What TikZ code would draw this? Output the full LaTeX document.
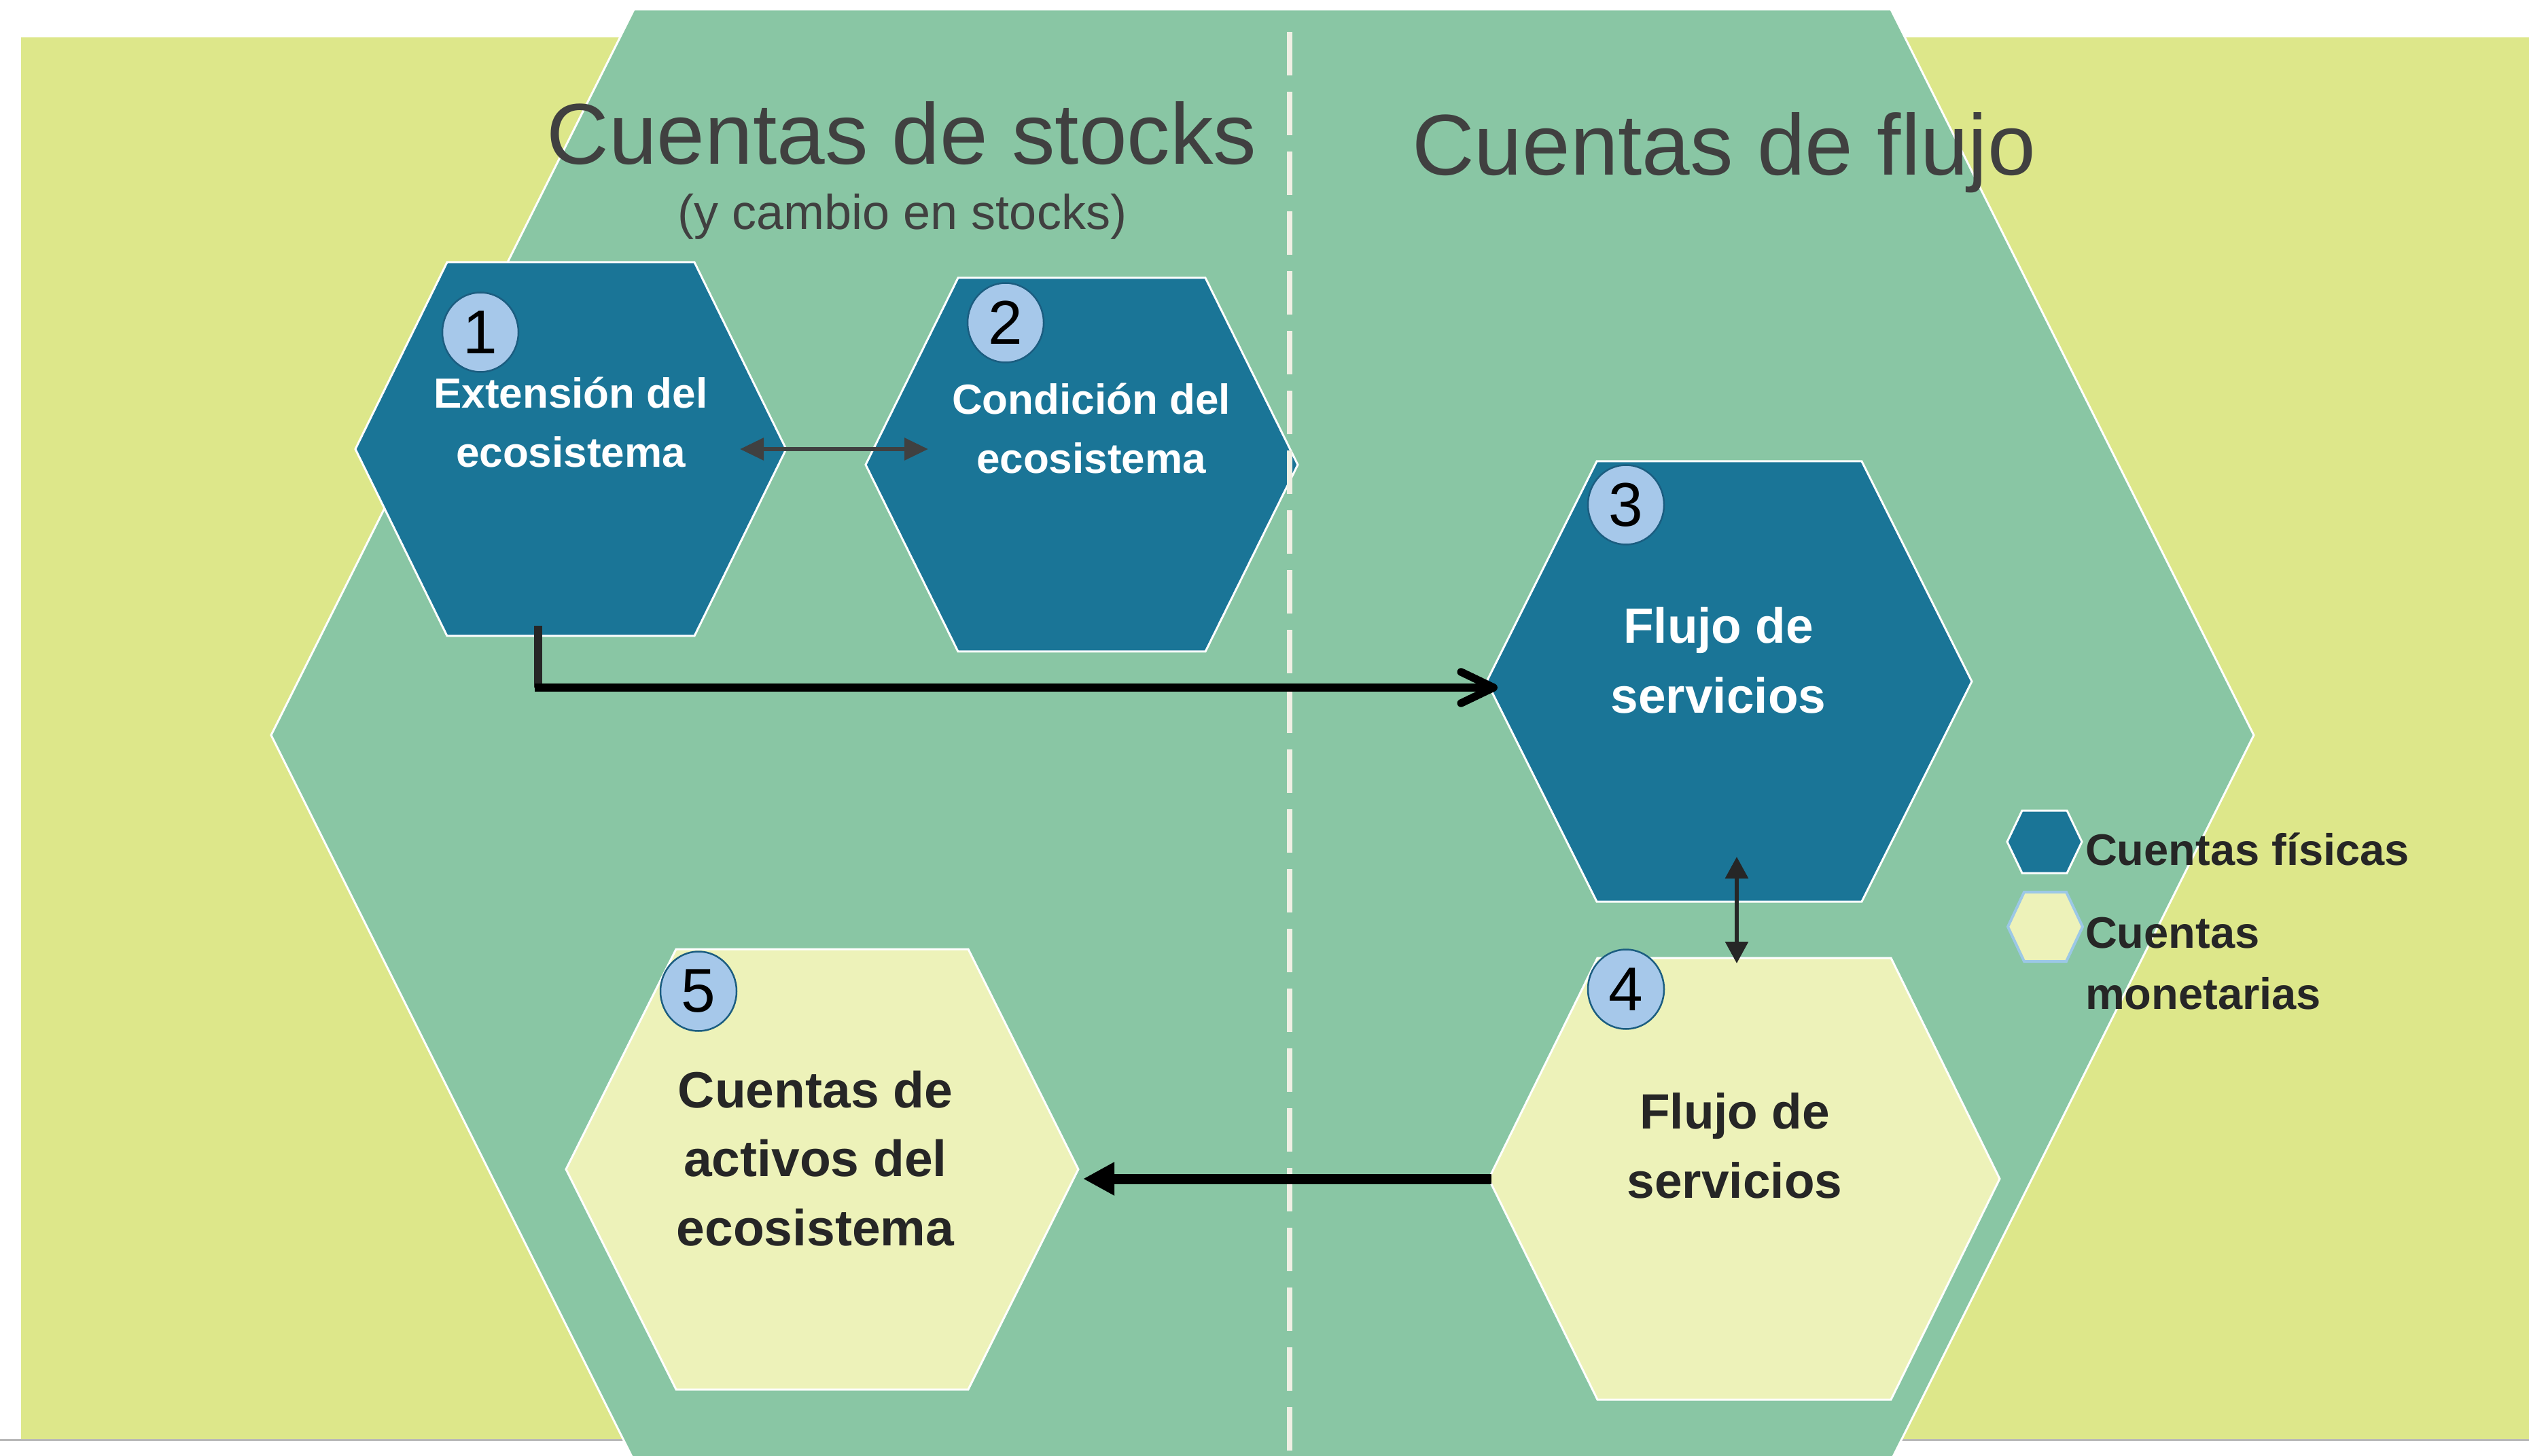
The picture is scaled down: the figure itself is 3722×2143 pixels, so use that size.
\documentclass[tikz,border=0pt]{standalone}
\usepackage{fontspec}
\setmainfont{Liberation Sans}
\usetikzlibrary{arrows.meta,shapes.geometric}
\definecolor{fondoam}{HTML}{DDE78A}
\definecolor{verde}{HTML}{89C6A4}
\definecolor{azul}{HTML}{1A7597}
\definecolor{claro}{HTML}{EDF2B9}
\definecolor{insig}{HTML}{A6C8EA}
\definecolor{insigborde}{HTML}{1B5D80}
\definecolor{rayas}{HTML}{F0EFE4}
\definecolor{grist}{HTML}{404040}
\definecolor{oscuro}{HTML}{262626}
\definecolor{lineagris}{HTML}{B8B8B8}
\definecolor{bordeleg}{HTML}{9CC8E6}
% #1 name, #2 cx, #3 cy, #4 half width, #5 top half width, #6 half height, #7 style
\newcommand{\hexa}[7]{%
  \path[#7] ({#2-#4},#3) coordinate (#1-l)
    -- ({#2-#5},{#3-#6}) coordinate (#1-tl)
    -- ({#2+#5},{#3-#6}) coordinate (#1-tr)
    -- ({#2+#4},#3) coordinate (#1-r)
    -- ({#2+#5},{#3+#6}) coordinate (#1-br)
    -- ({#2-#5},{#3+#6}) coordinate (#1-bl)
    -- cycle;
  \coordinate (#1) at (#2,#3);
}
\newcommand{\lineas}[2][c]{\begin{tabular}[t]{@{}#1@{}}#2\end{tabular}}
\begin{document}
\begin{tikzpicture}[x=0.2pt,y=-0.2pt,
  hexazul/.style={fill=azul, draw=white, line width=0.6pt},
  hexclaro/.style={fill=claro, draw=white, line width=0.6pt},
  insignia/.style={ellipse, fill=insig, draw=insigborde, line width=0.5pt,
    minimum width=22.4pt, minimum height=23.4pt, inner sep=0pt,
    font=\fontsize{18.2}{18.2}\selectfont, text=black},
  titulo/.style={anchor=base, inner sep=0pt, text=grist},
  textohex/.style={anchor=base, inner sep=0pt},
  leyenda/.style={anchor=base west, inner sep=0pt, text=oscuro,
    font=\bfseries\fontsize{13}{18}\selectfont}
]
\useasboundingbox (0,0) rectangle (3722,2143);
\clip (0,0) rectangle (3722,2143);
\fill[white] (0,0) rectangle (3722,2143);
% background
\draw[lineagris, line width=0.6pt] (0,2119) -- (3722,2119);
\fill[fondoam] (31,55) rectangle (3722,2118);
% big hexagon
\hexa{G}{1858}{1082}{1459}{925}{1068}{fill=verde, draw=white, line width=0.6pt}
% account hexagons
\hexa{H1}{840}{661}{317}{182}{275}{hexazul}
\hexa{H2}{1592}{684}{318}{182}{275}{hexazul}
\hexa{H3}{2545}{1003}{357}{195}{324}{hexazul}
\hexa{H4}{2567}{1735}{376}{216}{325}{hexclaro}
\hexa{H5}{1210}{1721}{377}{215}{324}{hexclaro}
% dashed divider
\draw[rayas, line width=1.6pt, dash pattern=on 12.8pt off 4.8pt] (1898,47) -- (1898,2143);
% legend
\hexa{L1}{3009}{1239}{55}{33}{46}{hexazul}
\hexa{L2}{3010}{1364}{55}{31}{51}{fill=claro, draw=bordeleg, line width=0.8pt}
\node[leyenda] (l1) at (3068,1273) {Cuentas físicas};
\node[leyenda] (l2) at (3068,1395) {\lineas[l]{Cuentas\\monetarias}};
% connector end points
\coordinate (a12s) at (1089,661);
\coordinate (a12e) at (1366,661);
\coordinate (c1s) at (792,921);
\coordinate (c1k) at (792,1012);
\coordinate (c1h) at (787,1012);
\coordinate (a13e) at (2204,1012);
\coordinate (a34s) at (2556,1261);
\coordinate (a34e) at (2556,1418);
\coordinate (a45s) at (2195,1735);
\coordinate (a45e) at (1594,1735);
% connectors
\draw[grist, line width=1.2pt, {Triangle[length=7pt,width=6.4pt]}-{Triangle[length=7pt,width=6.4pt]}] (a12s) -- (a12e);
\draw[oscuro, line width=2.3pt] (c1s) -- (c1k);
\draw[black, line width=2.3pt, -{Straight Barb[length=9.6pt,width=9.2pt,round]}] (c1h) -- (a13e);
\draw[oscuro, line width=1.2pt, {Triangle[length=6.4pt,width=6.6pt]}-{Triangle[length=6.4pt,width=6.6pt]}] (a34s) -- (a34e);
\draw[black, line width=3pt, -{Triangle[length=9.2pt,width=9.2pt]}] (a45s) -- (a45e);
% badges
\node[insignia] (b1) at (707,489) {1};
\node[insignia] (b2) at (1480,475) {2};
\node[insignia] (b3) at (2393,743) {3};
\node[insignia] (b4) at (2393,1456) {4};
\node[insignia] (b5) at (1028,1459) {5};
% titles
\node[titulo, font=\fontsize{25.4}{30}\selectfont] (ts) at (1327,242) {Cuentas de stocks};
\node[titulo, font=\fontsize{14.4}{17}\selectfont] (tsub) at (1328,338) {(y cambio en stocks)};
\node[titulo, font=\fontsize{25.4}{30}\selectfont] (tf) at (2537,258) {Cuentas de flujo};
% hexagon texts
\node[textohex, text=white, font=\bfseries\fontsize{12.4}{17.4}\selectfont] (t1) at (840,601) {\lineas{Extensión del\\ecosistema}};
\node[textohex, text=white, font=\bfseries\fontsize{12.4}{17.4}\selectfont] (t2) at (1606,610) {\lineas{Condición del\\ecosistema}};
\node[textohex, text=white, font=\bfseries\fontsize{14.6}{20.4}\selectfont] (t3) at (2529,947) {\lineas{Flujo de\\servicios}};
\node[textohex, text=oscuro, font=\bfseries\fontsize{14.6}{20.4}\selectfont] (t4) at (2553,1661) {\lineas{Flujo de\\servicios}};
\node[textohex, text=oscuro, font=\bfseries\fontsize{15}{20.3}\selectfont] (t5) at (1200,1630) {\lineas{Cuentas de\\activos del\\ecosistema}};
\end{tikzpicture}
\end{document}
